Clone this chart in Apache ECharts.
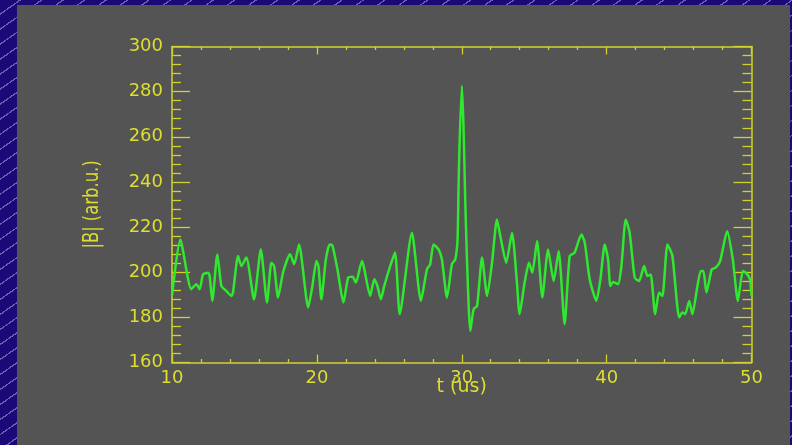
<!DOCTYPE html>
<html>
<head>
<meta charset="utf-8">
<script src="https://cdn.jsdelivr.net/npm/echarts@6/dist/echarts.min.js"></script>
<style>
html,body{margin:0;padding:0;}
#wrap{width:792px;height:445px;position:relative;
 background-color:#1a0976;
 background-image:repeating-linear-gradient(145deg, rgba(190,190,255,0) 0px, rgba(190,190,255,0) 11px, rgba(200,200,255,0.45) 11px, rgba(200,200,255,0.45) 12.3px);}
#chart{width:792px;height:445px;position:absolute;left:0;top:0;}
</style>
</head>
<body>
<div id="wrap"><div id="chart"></div></div>
<script>
// time (us)
var tValues = [10.00,10.57,11.33,11.68,11.91,12.14,12.49,12.60,12.78,13.13,13.41,13.75,14.10,14.21,14.56,14.79,15.13,15.66,16.13,16.56,16.86,17.05,17.32,17.67,18.15,18.43,18.77,19.40,19.69,19.97,20.11,20.31,20.62,20.89,21.07,21.42,21.83,22.16,22.46,22.69,23.11,23.68,23.96,24.18,24.42,24.65,24.99,25.39,25.72,26.56,27.18,27.60,27.82,28.05,28.40,28.63,28.98,29.32,29.55,29.71,29.78,29.85,30.01,30.12,30.24,30.36,30.59,30.82,31.06,31.40,31.75,32.09,32.43,32.66,33.07,33.47,33.81,33.99,34.34,34.64,34.87,35.20,35.56,35.96,36.34,36.69,37.10,37.45,37.79,38.26,38.49,38.83,39.29,39.57,39.87,40.10,40.26,40.45,40.79,41.02,41.32,41.59,41.94,42.24,42.59,42.82,43.04,43.35,43.62,43.85,44.20,44.54,45.01,45.23,45.42,45.70,45.92,46.27,46.50,46.68,46.89,47.26,47.53,47.84,48.32,48.71,49.06,49.40,49.61,49.89,50.00];
// |B| (arb.u.)
var bValues = [189.5,214.5,192.5,194.7,192.5,199.0,199.8,198.3,187.3,207.9,193.9,191.7,189.5,191.0,207.2,202.7,206.5,188.0,210.1,186.6,204.2,202.7,188.8,200.0,208.0,203.5,212.3,184.4,193.9,205.0,202.7,188.0,205.7,212.3,211.9,201.3,186.6,197.6,198.0,195.4,205.0,189.5,196.9,193.9,188.0,193.9,201.3,208.7,181.4,217.5,187.3,201.3,203.5,212.3,210.1,205.7,188.8,203.5,205.7,214.5,238.0,257.2,282.6,264.6,232.2,205.7,174.0,183.6,185.1,206.5,189.5,204.2,223.4,216.0,204.2,217.5,195.4,181.4,195.4,204.2,199.8,213.8,188.8,210.1,196.1,209.4,177.0,207.2,208.7,216.7,213.1,196.9,187.3,196.9,212.3,205.7,193.9,195.7,194.7,202.7,223.4,217.5,197.6,196.1,202.7,198.3,199.0,181.4,191.0,189.5,212.3,207.2,180.0,182.2,181.4,187.3,181.4,193.9,200.5,200.5,191.0,201.3,202.0,205.0,218.2,205.7,187.3,200.5,199.8,196.9,189.5];
var xTicks = [10, 20, 30, 40, 50];
var yTicks = [160, 180, 200, 220, 240, 260, 280, 300];
var xTitle = 't (us)';
var yTitle = '|B| (arb.u.)';

var seriesData = tValues.map(function (t, i) { return [t, bValues[i]]; });

var axisColor = '#d2d22c';
var labelColor = '#dede2e';
var labelFont = 'DejaVu Sans';

function xAxisDef(pos, showLabel) {
  return {
    type: 'value', position: pos,
    min: xTicks[0], max: xTicks[xTicks.length - 1], interval: xTicks[1] - xTicks[0],
    name: showLabel ? xTitle : '', nameLocation: 'middle', nameGap: 15, nameMoveOverlap: false,
    nameTextStyle: { color: labelColor, fontFamily: labelFont, fontSize: 19, verticalAlign: 'top' },
    axisLine: { show: true, onZero: false, lineStyle: { color: axisColor, width: 1.5 } },
    axisTick: { show: true, inside: true, length: 8, lineStyle: { color: axisColor, width: 1.3 } },
    minorTick: { show: true, splitNumber: 5, length: 3.5, lineStyle: { color: axisColor, width: 1.3 } },
    axisLabel: { show: showLabel, color: labelColor, fontFamily: labelFont, fontSize: 18, margin: 7 },
    splitLine: { show: false }, minorSplitLine: { show: false }
  };
}
function yAxisDef(pos, showLabel) {
  return {
    type: 'value', position: pos,
    min: yTicks[0], max: yTicks[yTicks.length - 1], interval: yTicks[1] - yTicks[0],
    axisLine: { show: true, onZero: false, lineStyle: { color: axisColor, width: 1.5 } },
    axisTick: { show: true, inside: true, length: 18, lineStyle: { color: axisColor, width: 1.3 } },
    minorTick: { show: true, splitNumber: 5, length: 9, lineStyle: { color: axisColor, width: 1.3 } },
    axisLabel: { show: showLabel, color: labelColor, fontFamily: labelFont, fontSize: 18, margin: 9 },
    splitLine: { show: false }, minorSplitLine: { show: false }
  };
}

var chart = echarts.init(document.getElementById('chart'), null, { renderer: 'canvas' });
chart.setOption({
  backgroundColor: 'transparent',
  animation: false,
  graphic: [{
    type: 'rect', z: -10, silent: true,
    shape: { x: 17, y: 5, width: 773, height: 445 },
    style: { fill: '#545454' }
  }, {
    type: 'text', silent: true, z: 10,
    x: 93, y: 204.5, rotation: Math.PI / 2, scaleX: 0.78, scaleY: 1,
    style: {
      text: yTitle, fill: labelColor, font: '21px "DejaVu Sans"',
      textAlign: 'center', textVerticalAlign: 'middle'
    }
  }],
  grid: { left: 172, right: 40.5, top: 46.5, bottom: 82.5, containLabel: false },
  xAxis: [xAxisDef('bottom', true), xAxisDef('top', false)],
  yAxis: [yAxisDef('left', true), yAxisDef('right', false)],
  series: [{
    type: 'line', xAxisIndex: 0, yAxisIndex: 0,
    data: seriesData, showSymbol: false, smooth: 0.2,
    lineStyle: { color: '#30e830', width: 2.5 },
    itemStyle: { color: '#30e830' }
  }]
});
</script>
</body>
</html>
